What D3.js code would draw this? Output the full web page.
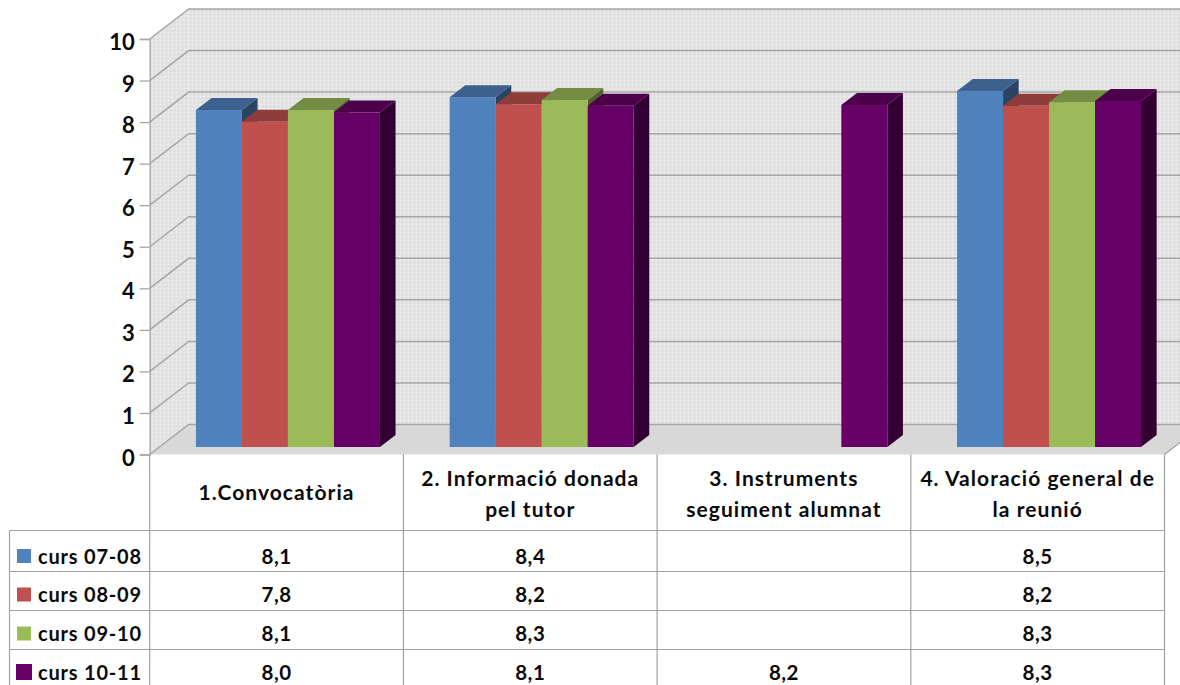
<!DOCTYPE html>
<html>
<head>
<meta charset="utf-8">
<script src="https://cdnjs.cloudflare.com/ajax/libs/d3/7.8.5/d3.min.js"></script>
<style>
  html, body { margin: 0; padding: 0; background: #fff; overflow: hidden; }
  text { font-family: Lato, "Open Sans", sans-serif; font-weight: 700; fill: #0a0a0a; }
</style>
</head>
<body>
<div id="chart"></div>
<script>
var categories = ["1.Convocatòria", "2. Informació donada pel tutor", "3. Instruments seguiment alumnat", "4. Valoració general de la reunió"];
var categoryLines = [["1.Convocatòria"], ["2. Informació donada", "pel tutor"], ["3. Instruments", "seguiment alumnat"], ["4. Valoració general de", "la reunió"]];
var seriesNames = ["curs 07-08", "curs 08-09", "curs 09-10", "curs 10-11"];
var seriesColors = ["#4f81bd", "#c0504d", "#9bbb59", "#660066"];
var topColors = ["#3c618e", "#903c3a", "#748c43", "#4c004c"];
var sideColors = ["#2a4563", "#672a29", "#51622f", "#330033"];

// values as drawn by the bars
var curs0708 = [8.11, 8.42, null, 8.57];
var curs0809 = [7.83, 8.25, null, 8.21];
var curs0910 = [8.11, 8.35, null, 8.3];
var curs1011 = [8.05, 8.21, 8.23, 8.33];
var seriesValues = [curs0708, curs0809, curs0910, curs1011];

// values as printed in the data table
var label0708 = ["8,1", "8,4", "", "8,5"];
var label0809 = ["7,8", "8,2", "", "8,2"];
var label0910 = ["8,1", "8,3", "", "8,3"];
var label1011 = ["8,0", "8,1", "8,2", "8,3"];
var tableLabels = [label0708, label0809, label0910, label1011];

var yTicks = [0, 1, 2, 3, 4, 5, 6, 7, 8, 9, 10];

var width = 1180, height = 685;
var plotLeft = 149.7, plotRight = 1164.5, plotBottom = 454.5, plotTop = 39;
var depthX = 39, depthY = -30;      // full depth of the 3d box
var barDepth = 0.4;                 // share of the box depth taken by a bar
var barFront = 0.25;                // where the bar front sits inside the box

var svg = d3.select("#chart").append("svg")
    .attr("width", width)
    .attr("height", height)
    .style("display", "block");

var xCat = d3.scaleBand().domain(categories).range([plotLeft, plotRight]);
var xSeries = d3.scaleBand().domain(seriesNames).range([36.5, 220.5]);
var y = d3.scaleLinear().domain([0, 10]).range([plotBottom, plotTop]);

// project a point of the box: x px, value, z in 0..1
var px = (x, z) => x + depthX * z;
var py = (v, z) => y(v) + depthY * z;
var poly = (pts) => pts.map(p => p.join(",")).join(" ");

// mesh pattern of the walls
var defs = svg.append("defs");
var pat = defs.append("pattern")
    .attr("id", "mesh")
    .attr("patternUnits", "userSpaceOnUse")
    .attr("width", 4).attr("height", 4);
pat.append("rect").attr("width", 4).attr("height", 4).attr("fill", "#e3e3e3");
pat.append("path").attr("d", "M0 .5H4M.5 0V4").attr("stroke", "#e9e9e9").attr("stroke-width", 1);
pat.append("path").attr("d", "M0 2.5H4M2.5 0V4").attr("stroke", "#dfdfdf").attr("stroke-width", 1);

// walls and floor
svg.append("polygon")
    .attr("points", poly([[px(plotLeft, 1), py(10, 1)], [px(plotRight, 1), py(10, 1)], [px(plotRight, 1), py(0, 1)], [px(plotLeft, 1), py(0, 1)]]))
    .attr("fill", "url(#mesh)");
svg.append("polygon")
    .attr("points", poly([[plotLeft, y(10)], [px(plotLeft, 1), py(10, 1)], [px(plotLeft, 1), py(0, 1)], [plotLeft, y(0)]]))
    .attr("fill", "url(#mesh)");
svg.append("polygon")
    .attr("points", poly([[plotLeft, y(0)], [px(plotLeft, 1), py(0, 1)], [px(plotRight, 1), py(0, 1)], [plotRight, y(0)]]))
    .attr("fill", "#d8d8d8");

// gridlines
var grid = svg.append("g")
    .attr("fill", "none")
    .attr("stroke", "#a6a6a6")
    .attr("stroke-width", 1.5);
grid.selectAll("path")
    .data(yTicks)
    .enter()
    .append("path")
    .attr("d", d => `M${plotLeft},${y(d)}L${px(plotLeft, 1)},${py(d, 1)}L${px(plotRight, 1)},${py(d, 1)}`);

// y axis
var axis = d3.axisLeft(y).tickValues(yTicks).tickSize(10).tickPadding(5);
var axisG = svg.append("g")
    .attr("transform", `translate(${plotLeft},0)`)
    .call(axis);
axisG.selectAll("line, path").attr("stroke", "#a6a6a6").attr("stroke-width", 1.3);
axisG.selectAll("text")
    .attr("font-family", "Lato")
    .attr("font-size", 22)
    .attr("dy", "0.48em");

// bars, series by series so a bar covers the side face of the one before it
var bars = [];
seriesNames.forEach((name, s) => {
    categories.forEach((cat, c) => {
        if (seriesValues[s][c] != null) {
            bars.push({ s: s, cat: cat, name: name, value: seriesValues[s][c] });
        }
    });
});

var barG = svg.append("g");
var bar = barG.selectAll("g")
    .data(bars)
    .enter()
    .append("g");

var x0 = d => xCat(d.cat) + xSeries(d.name);
var x1 = d => x0(d) + xSeries.bandwidth();
var z0 = barFront, z1 = barFront + barDepth;

bar.append("polygon")
    .attr("fill", d => sideColors[d.s])
    .attr("points", d => poly([[px(x1(d), z0), py(d.value, z0)], [px(x1(d), z1), py(d.value, z1)], [px(x1(d), z1), py(0, z1)], [px(x1(d), z0), py(0, z0)]]));
bar.append("polygon")
    .attr("fill", d => topColors[d.s])
    .attr("points", d => poly([[px(x0(d), z0), py(d.value, z0)], [px(x0(d), z1), py(d.value, z1)], [px(x1(d), z1), py(d.value, z1)], [px(x1(d), z0), py(d.value, z0)]]));
bar.append("rect")
    .attr("fill", d => seriesColors[d.s])
    .attr("x", d => px(x0(d), z0))
    .attr("y", d => py(d.value, z0))
    .attr("width", xSeries.bandwidth())
    .attr("height", d => y(0) - y(d.value));

// data table
var tableHeaderBottom = 530.5;
var legendLeft = 9.5;
var rowTops = [530.5, 571.5, 610.5, 649.5];
var rowBaselines = [563.5, 602, 641, 679.5];
var tableLine = "#a0a0a0";

var table = svg.append("g");
var vLines = categories.map(c => xCat(c)).concat([plotRight]);
table.selectAll("line.v")
    .data(vLines)
    .enter()
    .append("line")
    .attr("class", "v")
    .attr("x1", d => d).attr("x2", d => d)
    .attr("y1", plotBottom).attr("y2", height)
    .attr("stroke", tableLine).attr("stroke-width", 1.2);
table.selectAll("line.h")
    .data(rowTops)
    .enter()
    .append("line")
    .attr("class", "h")
    .attr("x1", legendLeft).attr("x2", plotRight)
    .attr("y1", d => d).attr("y2", d => d)
    .attr("stroke", tableLine).attr("stroke-width", 1.2);
table.append("line")
    .attr("x1", legendLeft).attr("x2", legendLeft)
    .attr("y1", tableHeaderBottom).attr("y2", height)
    .attr("stroke", tableLine).attr("stroke-width", 1.2);
table.append("line")
    .attr("x1", plotRight).attr("x2", px(plotRight, 0.62))
    .attr("y1", plotBottom).attr("y2", py(0, 0.62))
    .attr("stroke", tableLine).attr("stroke-width", 1.2);

// category headers
categoryLines.forEach((lines, c) => {
    var cx = xCat(categories[c]) + xCat.bandwidth() / 2;
    var startY = lines.length == 1 ? 500 : 486;
    lines.forEach((line, i) => {
        table.append("text")
            .attr("x", cx)
            .attr("y", startY + i * 30.7)
            .attr("text-anchor", "middle")
            .attr("font-size", 21)
            .attr("letter-spacing", 1.05)
            .text(line);
    });
});

// legend keys, names and values
seriesNames.forEach((name, s) => {
    var base = rowBaselines[s];
    var keySize = s == 3 ? 16 : 14;
    table.append("rect")
        .attr("x", 24 - keySize / 2)
        .attr("y", base - 7.5 - keySize / 2)
        .attr("width", keySize)
        .attr("height", keySize)
        .attr("fill", seriesColors[s]);
    table.append("text")
        .attr("x", 38)
        .attr("y", base)
        .attr("font-size", 20)
        .attr("letter-spacing", 0.8)
        .text(name);
    tableLabels[s].forEach((lab, c) => {
        table.append("text")
            .attr("x", xCat(categories[c]) + xCat.bandwidth() / 2)
            .attr("y", base)
            .attr("text-anchor", "middle")
            .attr("font-size", 20.5)
            .attr("letter-spacing", 0.5)
            .text(lab);
    });
});
</script>
</body>
</html>
